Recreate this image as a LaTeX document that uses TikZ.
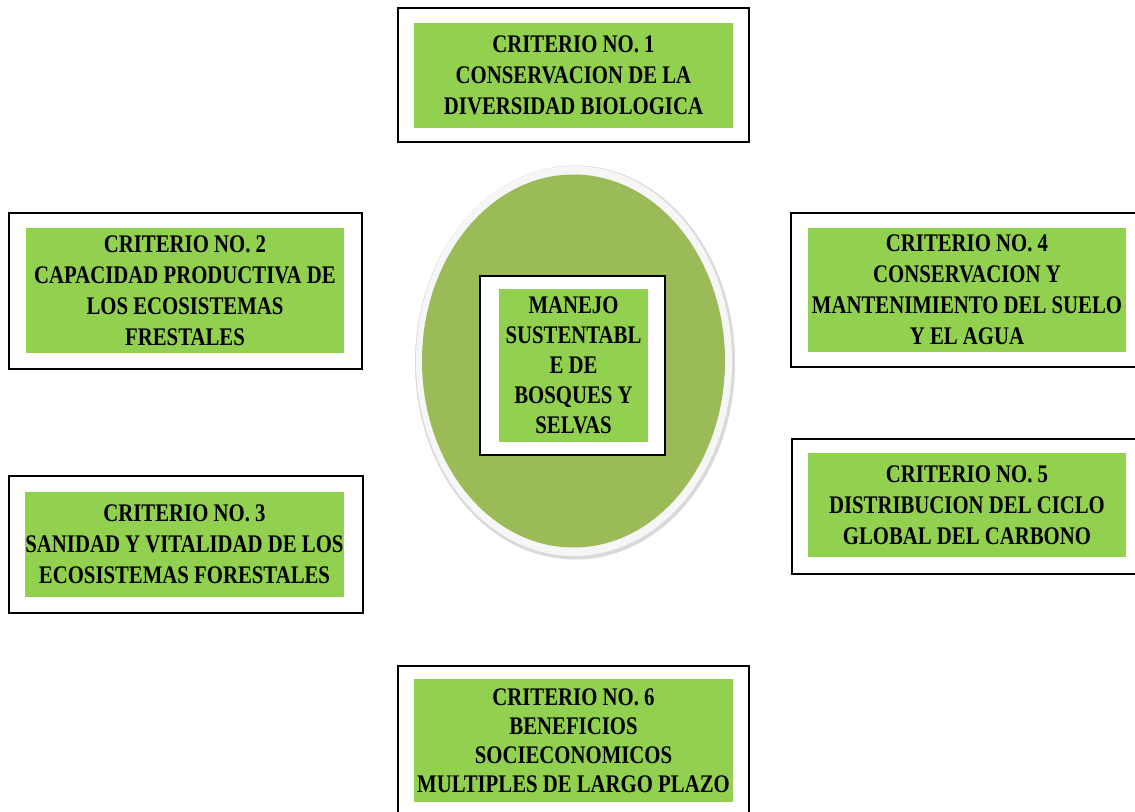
\documentclass[tikz,border=0pt]{standalone}
\usepackage{fontspec}
\setmainfont{Liberation Serif}[FakeStretch=0.82]
\definecolor{verdeclaro}{HTML}{92D050}
\definecolor{olivo}{HTML}{9BBB59}
\tikzset{
	marco/.style={draw=black, line width=1.5pt, fill=white},
	crit/.style={fill=verdeclaro, inner sep=0pt, align=center, text=black,
		minimum width=239pt, font=\bfseries\fontsize{19}{23.25}\selectfont},
}
\begin{document}
\begin{tikzpicture}[x=0.75pt,y=0.75pt,yscale=-1,xscale=1]
		\path[use as bounding box, clip] (0,0) rectangle (1135,812);
		\fill[white] (0,0) rectangle (1135,812);
		
		%Shape: Ellipse [id:centro] 
		\fill[gray!30] (575,362.5) ellipse [x radius=160, y radius=197];
		\fill[white!93!gray] (574,361) ellipse [x radius=158, y radius=195];
		\fill[olivo] (573.5,361) ellipse [x radius=151.5, y radius=186.5];
		
		%Shape: Rectangle [id:marcos] 
		\draw[marco] (398,8) rectangle (749,142) ;
		\draw[marco] (9,213) rectangle (362,369) ;
		\draw[marco] (9,476) rectangle (363,613) ;
		\draw[marco] (791,213) rectangle (1150,367) ;
		\draw[marco] (792,439) rectangle (1150,574) ;
		\draw[marco] (398,666) rectangle (749,830) ;
		\draw[marco] (480,276) rectangle (665,455) ;
		
		% Text Node
		\node[crit, minimum height=79pt] (c1) at (573.5,75.5) {CRITERIO NO. 1\\CONSERVACION DE LA\\DIVERSIDAD BIOLOGICA};
		% Text Node
		\node[crit, minimum height=93.5pt] (c2) at (185,290.5) {CRITERIO NO. 2\\CAPACIDAD PRODUCTIVA DE\\LOS ECOSISTEMAS\\FRESTALES};
		% Text Node
		\node[crit, minimum height=79pt] (c3) at (184.5,544.5) {CRITERIO NO. 3\\SANIDAD Y VITALIDAD DE LOS\\ECOSISTEMAS FORESTALES};
		% Text Node
		\node[crit, minimum height=93pt] (c4) at (967,290) {CRITERIO NO. 4\\CONSERVACION Y\\MANTENIMIENTO DEL SUELO\\Y EL AGUA};
		% Text Node
		\node[crit, minimum height=78pt] (c5) at (967,505) {CRITERIO NO. 5\\DISTRIBUCION DEL CICLO\\GLOBAL DEL CARBONO};
		% Text Node
		\node[crit, minimum height=92.25pt, font=\bfseries\fontsize{19}{21.75}\selectfont] (c6) at (573.5,740.5) {CRITERIO NO. 6\\BENEFICIOS\\SOCIECONOMICOS\\MULTIPLES DE LARGO PLAZO};
		% Text Node
		\node[crit, minimum width=111.75pt, minimum height=114.75pt, font=\bfseries\fontsize{19}{22.5}\selectfont] (manejo) at (573.5,365.5) {MANEJO\\SUSTENTABL\\E DE\\BOSQUES Y\\SELVAS};
		
		\end{tikzpicture}
\end{document}
